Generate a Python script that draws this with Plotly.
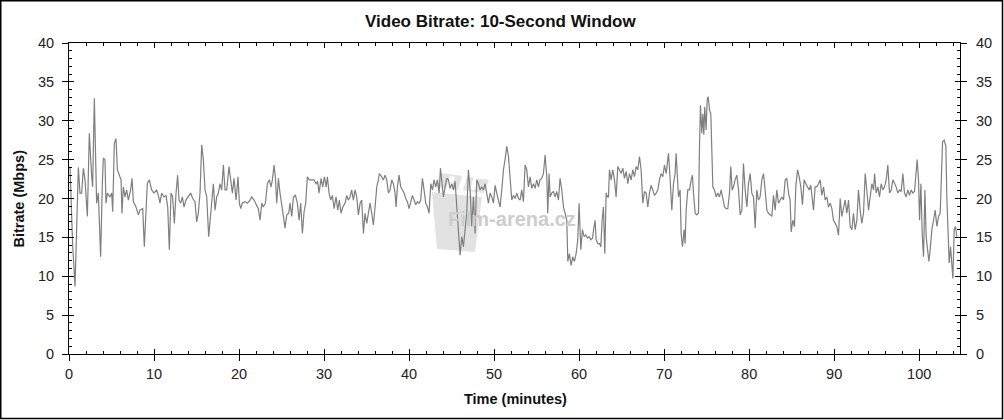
import plotly.graph_objects as go

# ---------------- data ----------------
time_min = [
    0.12, 0.43, 0.71, 0.90, 1.10, 1.29, 1.49, 1.69, 1.88, 2.16, 2.39, 2.67, 2.78, 2.98, 3.14, 3.25,
    3.45, 3.72, 3.92, 4.04, 4.23, 4.35, 4.51, 4.82, 5.02, 5.14, 5.33, 5.53, 5.69, 5.92, 6.12, 6.23,
    6.39, 6.59, 6.78, 6.98, 7.25, 7.41, 7.57, 7.88, 8.16, 8.35, 8.67, 8.86, 9.06, 9.21, 9.45, 9.72,
    10.0, 10.31, 10.55, 10.70, 10.90, 11.18, 11.41, 11.61, 11.80, 12.0, 12.19, 12.39, 12.59, 12.78,
    12.94, 13.14, 13.33, 13.53, 13.76, 14.04, 14.31, 14.55, 14.82, 15.02, 15.21, 15.41, 15.61, 15.80,
    16.0, 16.2, 16.43,
    16.98, 17.18, 17.37, 17.57, 17.76, 17.96, 18.16, 18.35, 18.55, 18.82, 19.02, 19.22, 19.41, 19.65,
    19.88, 20.04, 20.2, 20.39, 20.71, 20.98, 21.29, 21.49, 21.76, 22.0, 22.27, 22.47, 22.67, 22.86,
    23.1, 23.33, 23.57, 23.76, 23.92, 24.12, 24.27, 24.43, 24.63, 24.82, 25.02, 25.22, 25.41, 25.61,
    25.84, 26.0, 26.2, 26.39, 26.63, 26.86, 27.06, 27.25, 27.45, 27.65, 27.84, 28.04, 28.27, 28.55,
    28.82, 29.06, 29.25, 29.41, 29.65, 29.84, 30.04, 30.24, 30.39, 30.59, 30.78, 30.98, 31.18, 31.41,
    31.61, 31.8, 32.0, 32.2, 32.47, 32.67, 32.86, 33.06, 33.25, 33.45, 33.65, 33.84, 34.04, 34.24,
    34.43,
    34.63, 34.82, 35.02, 35.22, 35.41, 35.61, 35.80, 36.0, 36.2, 36.39, 36.51, 36.78, 36.98, 37.18,
    37.37, 37.57, 37.76, 37.96, 38.16, 38.35, 38.47, 38.63, 38.82, 39.02, 39.22, 39.41, 39.61, 39.8,
    40.0, 40.2, 40.39, 40.59, 40.78, 40.98, 41.18, 41.37, 41.57, 41.76, 41.96, 42.16, 42.35, 42.55,
    42.75, 42.94, 43.14, 43.33, 43.53, 43.69, 43.88, 44.04, 44.24, 44.43, 44.63, 44.82, 45.02, 45.22,
    45.41, 45.61, 45.80, 46.0, 46.2, 46.39, 46.59, 46.78, 46.98, 47.18, 47.37, 47.57, 47.76, 47.96,
    48.16, 48.35, 48.55, 48.75, 48.94, 49.14, 49.33, 49.53, 49.73, 49.92, 50.12, 50.31, 50.51, 50.71,
    50.9, 51.1, 51.29, 51.49, 51.69,
    51.88, 52.08, 52.27, 52.47, 52.67, 52.86, 53.06, 53.25, 53.45, 53.65, 53.84, 54.04, 54.24, 54.43,
    54.63, 54.82, 55.02, 55.21, 55.41, 55.61, 55.8, 56.0, 56.2, 56.31, 56.47, 56.59, 56.78, 56.98,
    57.18, 57.37, 57.57, 57.76, 57.96, 58.16, 58.35, 58.55, 58.67, 58.86, 59.06, 59.25, 59.45, 59.65,
    59.84, 60.0, 60.2, 60.39, 60.59, 60.78, 60.98, 61.18, 61.37, 61.57, 61.76, 61.88, 62.0, 62.2,
    62.39, 62.55, 62.71, 62.86, 63.02, 63.18, 63.33, 63.45, 63.57, 63.76, 63.96, 64.16, 64.35, 64.55,
    64.75, 64.94, 65.14, 65.33, 65.53, 65.73, 65.92, 66.12, 66.31, 66.51, 66.71, 66.9, 67.1, 67.29,
    67.49, 67.69, 67.88, 68.08, 68.27, 68.47, 68.67, 68.86, 69.06, 69.25, 69.45, 69.65, 69.84, 70.04,
    70.24,
    70.51, 70.71, 70.9, 71.1, 71.29, 71.41, 71.57, 71.69, 71.88, 72.0, 72.16, 72.35, 72.47, 72.59,
    72.78, 72.98, 73.18, 73.33, 73.45, 73.65, 73.84, 74.04, 74.16, 74.27, 74.43, 74.55, 74.67, 74.78,
    74.94, 75.06, 75.18, 75.33, 75.49, 75.61, 75.73, 75.92, 76.12, 76.31, 76.51, 76.71, 76.9, 77.1,
    77.29, 77.49, 77.69, 77.84, 78.0, 78.16, 78.35, 78.55, 78.75, 78.94, 79.14, 79.33, 79.53, 79.73,
    79.92, 80.12, 80.31, 80.51, 80.71, 80.9, 81.1, 81.29, 81.49, 81.69, 81.88, 82.08, 82.27, 82.47,
    82.67, 82.86, 83.06, 83.25, 83.45, 83.65, 83.84, 84.04, 84.24, 84.43, 84.63, 84.82, 84.94, 85.14,
    85.33, 85.49, 85.69, 85.88, 86.08, 86.27, 86.47, 86.67, 86.86, 87.06, 87.25,
    87.57, 87.76, 87.96, 88.16, 88.35, 88.55, 88.75, 88.94, 89.14, 89.33, 89.53, 89.73, 89.92, 90.12,
    90.31, 90.51, 90.71, 90.9, 91.1, 91.29, 91.49, 91.69, 91.88, 92.08, 92.27, 92.47, 92.67, 92.86,
    93.06, 93.25, 93.45, 93.65, 93.84, 94.04, 94.24, 94.43, 94.63, 94.75, 94.94, 95.14, 95.33, 95.53,
    95.73, 95.92, 96.12, 96.31, 96.51, 96.71, 96.9, 97.1, 97.29, 97.49, 97.69, 97.88, 98.08, 98.27,
    98.47, 98.67, 98.86, 99.06, 99.25, 99.45, 99.65, 99.76, 99.92, 100.04, 100.2, 100.35, 100.51, 100.67,
    100.82, 100.98, 101.14, 101.29, 101.49, 101.69, 101.88, 102.08, 102.27, 102.47, 102.59, 102.75, 102.94, 103.14,
    103.25, 103.37, 103.53, 103.69, 103.84, 103.96, 104.12, 104.27, 104.43,
]

bitrate_mbps = [
    24.0, 14.0, 8.7, 15.0, 24.0, 20.7, 20.7, 23.9, 22.4, 17.7, 28.4, 22.8, 21.5, 32.9, 26.7, 19.4,
    20.7, 12.5, 21.9, 25.2, 25.0, 19.4, 20.7, 20.2, 20.7, 18.3, 27.1, 27.7, 23.7, 23.0, 22.4, 18.1,
    21.5, 20.2, 21.1, 19.8, 21.1, 22.6, 19.6, 18.9, 17.9, 18.5, 18.7, 13.8, 18.1, 21.9, 22.4, 21.1,
    20.7, 21.1, 20.2, 19.4, 20.7, 20.2, 20.4, 18.9, 13.4, 20.7, 20.2, 16.8, 20.7, 23.0,
    19.8, 19.4, 20.2, 18.9, 19.8, 20.2, 20.7, 20.0, 19.6, 17.0, 18.1, 20.7, 26.9, 25.0,
    21.1, 20.2, 15.1,
    21.9, 18.5, 20.2, 20.7, 21.9, 21.1, 24.3, 21.1, 21.1, 24.1, 22.4, 20.7, 22.6, 19.8,
    22.8, 19.4, 18.7, 19.4, 19.6, 19.4, 19.8, 20.2, 19.8, 19.2, 18.7, 17.2, 19.4, 18.9,
    19.4, 21.9, 22.4, 21.5, 22.4, 24.3, 22.8, 19.4, 22.6, 20.7, 18.9, 17.7, 16.2, 17.9,
    18.1, 19.4, 17.7, 20.2, 20.4, 19.4, 17.2, 19.4, 15.5, 18.3, 19.4, 22.8, 22.4, 22.4,
    22.4, 21.9, 22.2, 20.7, 22.6, 21.5, 22.8, 21.5, 22.8, 20.7, 19.8, 20.4, 18.7, 20.2,
    18.5, 19.8, 18.1, 18.9, 19.4, 20.4, 19.8, 20.2, 21.1, 19.8, 21.1, 20.2, 17.9, 19.4,
    19.8,
    15.5, 18.1, 16.8, 18.5, 19.4, 18.1, 16.6, 18.9, 21.5, 22.4, 23.2, 22.8, 22.4, 23.0,
    22.4, 20.7, 21.1, 22.4, 21.9, 20.7, 18.9, 21.5, 23.0, 21.5, 21.1, 20.7, 20.0, 19.6,
    18.7, 19.8, 20.4, 19.8, 19.2, 19.6, 19.4, 19.8, 22.6, 21.1, 19.4, 18.9, 18.1, 21.9,
    21.1, 22.4, 21.5, 22.4, 20.7, 23.9, 21.5, 20.2, 21.5, 22.6, 22.4, 21.3, 21.9, 21.1,
    22.2, 19.4, 16.4, 12.7, 15.1, 13.8, 16.0, 18.1, 23.7, 21.1, 16.4, 20.2, 15.5, 22.4,
    21.9, 21.1, 21.5, 21.1, 21.9, 20.4, 19.4, 20.7, 20.2, 19.4, 21.7, 20.7, 19.8, 18.9,
    21.1, 23.7, 25.0, 26.7, 25.4,
    22.4, 19.8, 20.4, 20.0, 20.7, 20.0, 19.8, 21.1, 19.6, 24.3, 23.7, 21.5, 22.8, 21.3,
    21.9, 21.3, 22.4, 21.5, 22.4, 22.6, 23.2, 25.6, 22.8, 18.1, 23.2, 20.2, 20.7, 20.9,
    20.2, 20.9, 19.8, 22.6, 21.1, 18.9, 18.1, 17.2, 11.9, 12.9, 11.4, 12.5, 11.9, 12.9,
    14.7, 19.4, 13.4, 16.0, 15.1, 15.3, 14.9, 15.1, 14.7, 14.9, 16.4, 17.2, 14.7, 14.2,
    14.2, 13.8, 17.2, 18.9, 12.9, 20.7, 20.2, 20.2, 23.7, 22.4, 23.7, 22.4, 20.2, 24.1,
    23.7, 23.2, 23.9, 22.6, 23.5, 21.9, 23.2, 22.4, 23.7, 22.8, 24.1, 23.7, 25.4, 23.7,
    19.4, 20.9, 20.7, 18.9, 20.7, 21.7, 21.1, 20.4, 20.7, 21.1, 22.4, 23.2, 22.8, 24.3,
    23.2,
    25.8, 22.4, 18.5, 21.9, 23.2, 25.8, 21.5, 20.2, 21.1, 15.5, 13.8, 16.0, 14.2, 18.5,
    21.1, 21.1, 22.4, 23.0, 20.7, 18.1, 17.9, 18.1, 26.7, 32.0, 28.4, 30.9, 28.2, 31.8,
    28.8, 32.7, 33.1, 31.4, 30.9, 24.5, 21.5, 21.1, 20.2, 20.7, 20.2, 21.1, 19.8, 18.9,
    18.7, 18.7, 20.7, 24.1, 21.1, 21.5, 22.4, 23.0, 21.1, 17.9, 18.5, 24.5, 21.1, 18.9,
    21.9, 23.2, 20.7, 20.2, 16.2, 21.1, 19.8, 20.2, 22.4, 23.2, 21.1, 18.5, 18.1, 17.9,
    17.7, 20.4, 18.5, 21.1, 19.4, 19.8, 20.2, 19.8, 22.4, 22.6, 20.7, 19.8, 15.7, 17.2,
    16.4, 21.5, 23.7, 22.8, 21.5, 19.2, 22.4, 21.9, 21.5, 21.1, 21.7,
    18.5, 21.5, 21.5, 21.9, 22.4, 20.4, 21.5, 19.8, 20.2, 18.9, 19.4, 18.7, 17.2, 16.8,
    16.4, 15.3, 20.0, 17.7, 18.9, 19.8, 18.1, 19.8, 16.4, 16.0, 18.1, 16.0, 17.2, 21.1,
    18.5, 16.8, 18.1, 23.2, 21.1, 18.5, 20.2, 21.9, 21.1, 23.2, 20.7, 21.5, 20.2, 21.9,
    21.1, 21.5, 22.4, 24.3, 20.7, 21.1, 22.4, 21.9, 21.5, 20.7, 21.1, 20.9, 23.2, 20.7,
    20.2, 21.1, 20.4, 21.1, 20.7, 20.9, 24.1, 25.0, 22.4, 17.2, 21.9, 15.5, 12.5, 21.1,
    15.1, 13.0, 11.9, 13.4, 16.0, 17.2, 18.5, 16.4, 17.7, 18.1, 22.4, 27.3, 27.5, 26.7,
    20.2, 15.5, 11.7, 13.8, 11.7, 9.7, 16.0, 16.4, 15.1,
]

x_ticks = [0, 10, 20, 30, 40, 50, 60, 70, 80, 90, 100]
y_ticks = [0, 5, 10, 15, 20, 25, 30, 35, 40]
x_range = [0, 104.8]
y_range = [0, 40]

title_text = "Video Bitrate: 10-Second Window"
x_title = "Time (minutes)"
y_title = "Bitrate (Mbps)"
watermark = "Film-arena.cz"

# ---------------- layout geometry ----------------
W, H = 1004, 420
L, R, T, B = 69, 44, 43, 66
PW, PH = W - L - R, H - T - B
FONT = "Liberation Sans, Arial, Helvetica, sans-serif"


def px(x):
    return (x - L) / PW


def py(y):
    return (H - B - y) / PH


def path(points):
    s = "M " + " L ".join(f"{px(a):.5f},{py(b):.5f}" for a, b in points) + " Z"
    return s


fig = go.Figure()

fig.add_trace(go.Scatter(
    x=time_min, y=bitrate_mbps, mode="lines",
    line=dict(color="#7f7f7f", width=1.2),
    xaxis="x", yaxis="y", hoverinfo="skip", showlegend=False,
))
# helper traces so the overlay axes (inner ticks, right labels) are drawn
fig.add_trace(go.Scatter(x=[None], y=[None], xaxis="x2", yaxis="y3",
                         showlegend=False, hoverinfo="skip"))
fig.add_trace(go.Scatter(x=[None], y=[None], xaxis="x", yaxis="y2",
                         showlegend=False, hoverinfo="skip"))

tickfont = dict(family=FONT, size=14.5, color="#222222")

fig.update_layout(
    width=W, height=H,
    margin=dict(l=L, r=R, t=T, b=B, pad=0),
    paper_bgcolor="white", plot_bgcolor="white",
    showlegend=False,
    font=dict(family=FONT),
    xaxis=dict(
        range=x_range, tickmode="array", tickvals=x_ticks,
        ticks="outside", ticklen=6, tickwidth=1, tickcolor="black",
        showline=True, linecolor="black", linewidth=1, mirror=True,
        showgrid=False, zeroline=False, tickfont=tickfont,
        ticklabelstandoff=1,
    ),
    xaxis2=dict(
        range=x_range, overlaying="x", anchor="y", side="bottom",
        tickmode="array", tickvals=x_ticks,
        ticks="inside", ticklen=5, tickwidth=1, tickcolor="black",
        showticklabels=False, showline=True, linecolor="black", linewidth=1,
        mirror="ticks", showgrid=False, zeroline=False,
        minor=dict(tickmode="linear", tick0=0, dtick=2, ticks="inside",
                   ticklen=3, tickcolor="black", showgrid=False),
    ),
    yaxis=dict(
        range=y_range, tickmode="array", tickvals=y_ticks,
        ticks="outside", ticklen=6, tickwidth=1, tickcolor="black",
        showline=True, linecolor="black", linewidth=1, mirror=True,
        showgrid=False, zeroline=False, tickfont=tickfont,
        ticklabelstandoff=5,
    ),
    yaxis2=dict(
        range=y_range, overlaying="y", side="right", anchor="x",
        tickmode="array", tickvals=y_ticks,
        ticks="outside", ticklen=6, tickwidth=1, tickcolor="black",
        showline=True, linecolor="black", linewidth=1,
        showgrid=False, zeroline=False, tickfont=tickfont,
        ticklabelstandoff=6,
    ),
    yaxis3=dict(
        range=y_range, overlaying="y", side="left", anchor="x2",
        tickmode="array", tickvals=y_ticks,
        ticks="inside", ticklen=5, tickwidth=1, tickcolor="black",
        showticklabels=False, showline=True, linecolor="black", linewidth=1,
        mirror="ticks", showgrid=False, zeroline=False,
        minor=dict(tickmode="linear", tick0=0, dtick=1, ticks="inside",
                   ticklen=3, tickcolor="black", showgrid=False),
    ),
)

# watermark (clapperboard + text)
wm_color = "#e2e2e2"
fig.add_shape(type="path", xref="paper", yref="paper", layer="below",
              path=path([(432, 192), (482, 197), (475, 252), (437, 249)]),
              fillcolor=wm_color, line=dict(width=0))
fig.add_shape(type="path", xref="paper", yref="paper", layer="below",
              path=path([(437, 187), (442, 173), (489, 180), (484, 193)]),
              fillcolor=wm_color, line=dict(width=0))
for a in (450, 462, 474):
    fig.add_shape(type="path", xref="paper", yref="paper", layer="below",
                  path=path([(a, 176), (a + 5, 176.8), (a + 1, 190), (a - 4, 189.2)]),
                  fillcolor="white", line=dict(width=0))

fig.add_annotation(text=watermark, xref="paper", yref="paper",
                   x=px(512), y=py(219), xanchor="center", yanchor="middle",
                   showarrow=False,
                   font=dict(family=FONT, size=20, color="#cdcdcd", weight="bold"))

# titles
fig.add_annotation(text=title_text, xref="paper", yref="paper",
                   x=px(500), y=py(21.5), xanchor="center", yanchor="middle",
                   showarrow=False,
                   font=dict(family=FONT, size=17, color="#111111", weight="bold"))
fig.add_annotation(text=x_title, xref="paper", yref="paper",
                   x=px(515), y=py(399), xanchor="center", yanchor="middle",
                   showarrow=False,
                   font=dict(family=FONT, size=14.5, color="#111111", weight="bold"))
fig.add_annotation(text=y_title, xref="paper", yref="paper",
                   x=px(18.5), y=py(199), xanchor="center", yanchor="middle",
                   textangle=-90, showarrow=False,
                   font=dict(family=FONT, size=14.5, color="#111111", weight="bold"))

# outer frame
fig.add_shape(type="rect", xref="paper", yref="paper",
              x0=px(0.75), x1=px(1002.5), y0=py(418.5), y1=py(0.75),
              line=dict(color="black", width=1.5), fillcolor="rgba(0,0,0,0)")

fig.write_html(
    "out.html",
    config={"displayModeBar": False},
    post_script="document.body.style.margin='0';document.body.style.padding='0';",
)
